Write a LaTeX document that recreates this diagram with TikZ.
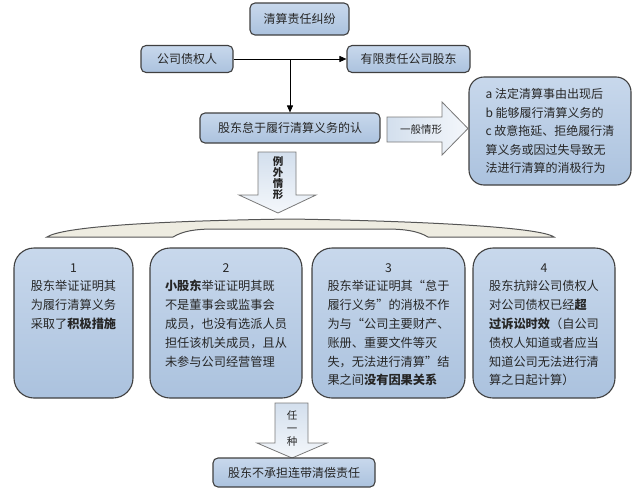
\documentclass[tikz,border=0pt]{standalone}
\usepackage{fontspec}
\setmainfont{Noto Sans CJK SC}
\usetikzlibrary{arrows.meta}
\definecolor{boxtop}{HTML}{C8D8EC}
\definecolor{boxbot}{HTML}{ABC2DE}
\definecolor{boxline}{HTML}{404040}
\definecolor{txt}{HTML}{262626}
\definecolor{arrline}{HTML}{7A7A7A}
\definecolor{arrA}{HTML}{D3DFED}
\definecolor{arrB}{HTML}{F4F7FB}
\definecolor{bracefill}{HTML}{EEECE1}
\definecolor{braceline}{HTML}{555555}
\tikzset{
  sbox/.style={draw=boxline, line width=1.1pt, rounded corners=5pt, top color=boxtop, bottom color=boxbot,
    text=txt, font=\fontsize{12}{15}\selectfont, inner sep=0pt},
  card/.style={draw=boxline, line width=1.1pt, rounded corners=20pt, top color=boxtop, bottom color=boxbot, inner sep=0pt},
  cardtext/.style={anchor=north, inner sep=0pt, text=txt, font=\fontsize{12.2}{18.8}\selectfont},
  conn/.style={line width=0.9pt, -{Triangle[length=7pt,width=6pt]}},
  blockarrow/.style={draw=arrline, line width=0.8pt},
  arrtext/.style={inner sep=0pt, text=txt, align=center}
}
\begin{document}
\begin{tikzpicture}[x=1pt,y=-1pt]
\useasboundingbox (0,0) rectangle (640,501);
% top boxes
\node[sbox, minimum width=99pt, minimum height=32pt] (top) at (299.5,19) {清算责任纠纷};
\node[sbox, minimum width=92pt, minimum height=27pt] (ca) at (187,59) {公司债权人};
\node[sbox, minimum width=123pt, minimum height=27pt] (cb) at (408.5,59) {有限责任公司股东};
\node[sbox, minimum width=180pt, minimum height=30pt] (cd) at (290,128) {股东怠于履行清算义务的认};
\node[sbox, rounded corners=15pt, minimum width=162pt, minimum height=108pt, align=left,
  font=\fontsize{12}{18.5}\selectfont] (rt) at (550,131)
  {a 法定清算事由出现后\\b 能够履行清算义务的\\c 故意拖延、拒绝履行清\\算义务或因过失导致无\\法进行清算的消极行为};
% connectors
\draw[conn] (ca.east) -- (cb.west);
\draw[conn] (ca.east -| cd.north) -- (cd.north);
% general case arrow
\path[blockarrow, left color=arrA, right color=arrB]
  (387,117) -- (442,117) -- (442,102) -- (468,128.5) -- (442,155) -- (442,142) -- (387,142) -- cycle;
\node[arrtext, font=\fontsize{10.5}{12}\selectfont] (ga) at (421,129.5) {一般情形};
% exception arrow
\path[blockarrow, top color=arrA, bottom color=arrB]
  (258,152) -- (296,152) -- (296,195) -- (316,195) -- (278,213) -- (239,195) -- (258,195) -- cycle;
\node[arrtext, font=\bfseries\fontsize{10.5}{11}\selectfont] (ea) at (278,178.5) {例\\外\\情\\形};
% brace
\path[draw=braceline, line width=1pt, fill=bracefill]
  (47,237) .. controls (62,227) and (150,221) .. (290,219)
  .. controls (420,221) and (540,227) .. (554,237)
  -- (428,237) .. controls (418,231) and (405,229) .. (385,229)
  -- (215,229) .. controls (195,229) and (183,231) .. (173,237) -- cycle;
% cards
\node[card, minimum width=119pt, minimum height=150pt] (b1) at (73.5,323) {};
\node[card, minimum width=152pt, minimum height=150pt] (b2) at (226,323) {};
\node[card, minimum width=153pt, minimum height=150pt] (b3) at (388.5,323) {};
\node[card, minimum width=142pt, minimum height=150pt] (b4) at (544,323) {};
\node[cardtext] (t1) at ([yshift=-11.3pt]b1.north) {\begin{tabular}{@{}l@{}}\multicolumn{1}{@{}c@{}}{1}\\
  股东举证证明其\\为履行清算义务\\采取了\textbf{积极措施}\end{tabular}};
\node[cardtext] (t2) at ([yshift=-11.3pt]b2.north) {\begin{tabular}{@{}l@{}}\multicolumn{1}{@{}c@{}}{2}\\
  \textbf{小股东}举证证明其既\\不是董事会或监事会\\成员，也没有选派人员\\担任该机关成员，且从\\未参与公司经营管理\end{tabular}};
\node[cardtext] (t3) at ([yshift=-11.3pt]b3.north) {\begin{tabular}{@{}l@{}}\multicolumn{1}{@{}c@{}}{3}\\
  股东举证证明其“怠于\\履行义务”的消极不作\\为与“公司主要财产、\\账册、重要文件等灭\\失，无法进行清算”结\\果之间\textbf{没有因果关系}\end{tabular}};
\node[cardtext] (t4) at ([yshift=-11.3pt]b4.north) {\begin{tabular}{@{}l@{}}\multicolumn{1}{@{}c@{}}{4}\\
  股东抗辩公司债权人\\对公司债权已经\textbf{超}\\\textbf{过诉讼时效}（自公司\\债权人知道或者应当\\知道公司无法进行清\\算之日起计算）\end{tabular}};
% any-one arrow
\path[blockarrow, top color=arrA, bottom color=arrB]
  (275,403) -- (308,403) -- (308,443) -- (327,443) -- (292,458) -- (257,443) -- (275,443) -- cycle;
\node[arrtext, font=\fontsize{10.5}{13}\selectfont] (aa) at (292,428) {任\\一\\种};
\node[sbox, minimum width=162pt, minimum height=29pt] (bt) at (294,472.5) {股东不承担连带清偿责任};
\end{tikzpicture}
\end{document}
